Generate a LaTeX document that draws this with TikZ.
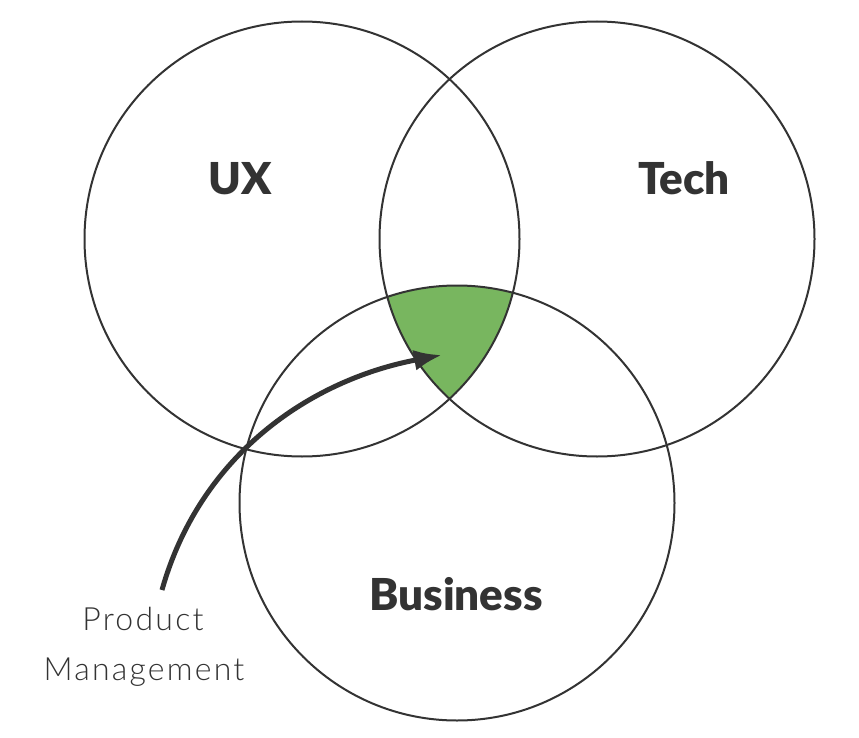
\documentclass[tikz,border=0pt]{standalone}
\usepackage{fontspec}
\setmainfont{Lato}
\newfontfamily\boldlabel{Lato Black}
\newfontfamily\lightlabel[LetterSpace=7]{Lato Light}
\usetikzlibrary{arrows.meta}
\definecolor{ink}{HTML}{333333}
\definecolor{pmgreen}{HTML}{78B65F}
\begin{document}
\begin{tikzpicture}[x=1pt,y=-1pt,
  ring/.style={circle,draw=ink,line width=2pt,minimum size=435pt,inner sep=0pt},
  biglabel/.style={anchor=base,text=ink,font=\boldlabel\fontsize{44}{48}\selectfont},
  smalllabel/.style={anchor=base,text=ink,font=\lightlabel\fontsize{32}{36}\selectfont},
  pmarrow/.style={draw=ink,line width=5pt,-{Latex[length=28pt,width=21pt]}}]
\useasboundingbox (0,0) rectangle (859,738);
\begin{scope}
  \clip (302,239) circle (217.5);
  \clip (597,239) circle (217.5);
  \fill[pmgreen] (457,503) circle (217.5);
\end{scope}
\node[ring] (ux) at (302,239) {};
\node[ring] (tech) at (597,239) {};
\node[ring] (biz) at (457,503) {};
\node[biglabel] (uxl) at (240,195) {UX};
\node[biglabel] (techl) at (684,195) {Tech};
\node[biglabel] (bizl) at (456,610) {Business};
\node[smalllabel] (prod) at (143,630) {Product};
\node[smalllabel] (mgmt) at (144,680) {Management};
\coordinate (astart) at (162,590);
\coordinate (aend) at (442,355);
\draw[pmarrow] (astart) .. controls (200,455) and (310,380) .. (aend);
\end{tikzpicture}
\end{document}
